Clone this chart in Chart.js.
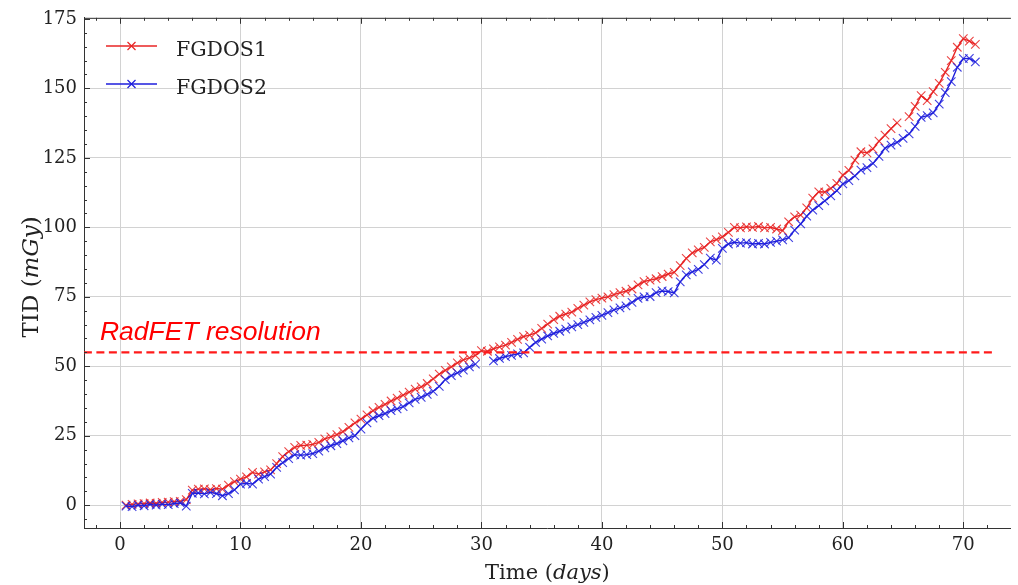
<!DOCTYPE html>
<html>
<head>
<meta charset="utf-8">
<script src="https://cdn.jsdelivr.net/npm/chart.js@4.4.0/dist/chart.umd.min.js"></script>
<style>
  html, body { margin: 0; padding: 0; background: #fff; }
  canvas { display: block; }
</style>
</head>
<body>
<canvas id="tid" width="1018" height="585"></canvas>
<script>
// sample times in days (every 12 h)
const days = [
  0.5, 1, 1.5, 2, 2.5, 3, 3.5, 4, 4.5, 5,
  5.5, 6, 6.5, 7, 7.5, 8, 8.5, 9, 9.5, 10,
  10.5, 11, 11.5, 12, 12.5, 13, 13.5, 14, 14.5, 15,
  15.5, 16, 16.5, 17, 17.5, 18, 18.5, 19, 19.5, 20,
  20.5, 21, 21.5, 22, 22.5, 23, 23.5, 24, 24.5, 25,
  25.5, 26, 26.5, 27, 27.5, 28, 28.5, 29, 29.5, 30,
  30.5, 31, 31.5, 32, 32.5, 33, 33.5, 34, 34.5, 35,
  35.5, 36, 36.5, 37, 37.5, 38, 38.5, 39, 39.5, 40,
  40.5, 41, 41.5, 42, 42.5, 43, 43.5, 44, 44.5, 45,
  45.5, 46, 46.5, 47, 47.5, 48, 48.5, 49, 49.5, 50,
  50.5, 51, 51.5, 52, 52.5, 53, 53.5, 54, 54.5, 55,
  55.5, 56, 56.5, 57, 57.5, 58, 58.5, 59, 59.5, 60,
  60.5, 61, 61.5, 62, 62.5, 63, 63.5, 64, 64.5, 65,
  65.5, 66, 66.5, 67, 67.5, 68, 68.5, 69, 69.5, 70,
  70.5, 71
];

// TID in mGy, null = no reading
const fgdos1 = [
  0, 0.3, 0.5, 0.6, 0.8, 0.7, 1.0, 1.1, 1.3, 1.4,
  2.0, 5.4, 5.8, 5.9, 5.6, 6.0, 5.8, 7.2, 8.5, 9.4,
  10.2, 11.8, 11.2, 12.0, 12.7, 15.0, 17.5, 19.3, 20.8, 21.5,
  21.6, 21.9, 22.6, 23.9, 24.6, 25.4, 26.5, 28.0, 29.6, 31.0,
  32.5, 34.0, 35.2, 36.3, 37.5, 38.5, 39.6, 40.7, 41.8, 42.6,
  43.8, 45.5, 47.2, 48.5, 49.8, 51.2, 52.3, 53.0, 53.9, 55.6,
  55.4, 56.3, 57.0, 57.6, 58.6, 59.7, 60.7, 61.2, 62.0, 63.6,
  65.2, 66.8, 68.0, 68.8, 69.5, 70.8, 72.0, 73.2, 74.0, 74.5,
  75.0, 75.8, 76.5, 77.0, 77.8, 79.3, 80.5, 81.0, 81.5, 82.3,
  83.2, 83.8, 86.2, 88.8, 90.8, 91.9, 92.8, 94.8, 95.6, 96.6,
  98.2, 100.0, 99.8, 100.2, 100.0, 100.3, 99.8, 100.0, 99.4, 98.8,
  102.0, 103.8, 104.4, 107.0, 110.5, 112.8, 112.7, 114.0, 115.8, 118.8,
  120.5, 124.2, 127.2, 126.8, 128.2, 131.0, 133.2, 135.5, 137.6, null,
  139.8, 143.5, 147.4, 145.6, 148.8, 151.8, 155.8, 160.0, 164.8, 167.9,
  167.0, 165.8
];

const fgdos2 = [
  -0.3, -0.5, 0.0, -0.2, 0.3, 0.0, 0.4, 0.2, 0.6, 0.8,
  -0.3, 4.3, 4.4, 4.1, 4.6, 4.2, 3.4, 4.2, 5.5, 7.6,
  7.9, 7.6, 9.4, 10.3, 11.2, 13.6, 15.3, 16.8, 18.2, 18.0,
  18.2, 18.6, 19.5, 20.6, 21.4, 22.2, 23.2, 24.2, 25.0, 27.4,
  29.6, 31.3, 32.2, 33.0, 34.0, 34.7, 35.5, 36.8, 38.1, 38.8,
  39.9, 41.0, 42.8, 45.2, 46.6, 47.6, 48.6, 49.8, 50.8, null,
  null, 51.9, 52.8, 53.5, 53.9, 54.5, 54.8, 56.8, 58.6, 59.8,
  60.9, 61.8, 62.6, 63.4, 64.2, 65.0, 65.8, 66.7, 67.6, 68.3,
  69.3, 70.3, 71.0, 71.7, 73.0, 74.4, 75.0, 75.1, 76.5, 77.1,
  76.9, 76.4, 80.4, 82.9, 84.0, 84.9, 86.6, 88.9, 88.2, 92.4,
  94.0, 94.6, 94.3, 94.5, 94.0, 94.2, 94.0, 94.6, 95.0, 95.5,
  96.3, 99.0, 101.2, 104.0, 106.2, 107.8, 109.5, 111.3, 113.2, 115.6,
  116.8, 118.5, 120.6, 121.5, 123.0, 125.5, 128.5, 129.6, 130.6, 132.0,
  133.6, 136.3, 139.6, 140.2, 141.2, 144.3, 148.5, 152.4, 157.6, 160.7,
  160.8, 159.5
];

// RadFET resolution threshold
const resolutionDose = 55;
const resolutionSpan = [-3, 72.7];

const xTickValues = [0, 10, 20, 30, 40, 50, 60, 70];
const yTickValues = [0, 25, 50, 75, 100, 125, 150, 175];

const RED = "rgb(232, 36, 36)";
const BLUE = "rgb(30, 30, 220)";
const SERIF = "'DejaVu Serif', serif";

function toPoints(ys) {
  return days.map((d, i) => ({ x: d, y: ys[i] }));
}

function drawMixed(ctx, parts, x, y, rotate) {
  ctx.save();
  ctx.translate(x, y);
  if (rotate) ctx.rotate(-Math.PI / 2);
  let total = 0;
  parts.forEach(p => { ctx.font = p.font; total += ctx.measureText(p.text).width; });
  let cx = -total / 2;
  ctx.textBaseline = "alphabetic";
  ctx.textAlign = "left";
  parts.forEach(p => {
    ctx.font = p.font;
    ctx.fillText(p.text, cx, 0);
    cx += ctx.measureText(p.text).width;
  });
  ctx.restore();
}

function drawCross(ctx, x, y, r) {
  ctx.beginPath();
  ctx.moveTo(x - r, y - r); ctx.lineTo(x + r, y + r);
  ctx.moveTo(x - r, y + r); ctx.lineTo(x + r, y - r);
  ctx.stroke();
}

const decorPlugin = {
  id: "decor",
  afterDraw(chart) {
    const ctx = chart.ctx, a = chart.chartArea;
    const xs = chart.scales.x, ys = chart.scales.y;
    ctx.save();

    // top spine + inward ticks
    ctx.strokeStyle = "#333";
    ctx.lineWidth = 1;
    ctx.beginPath();
    ctx.moveTo(a.left, a.top + 0.5);
    ctx.lineTo(a.right, a.top + 0.5);
    for (let v = -2; v <= 74; v += 2) {
      const px = Math.round(xs.getPixelForValue(v)) + 0.5;
      if (px < a.left || px > a.right) continue;
      const len = v % 10 === 0 ? 6 : 3;
      ctx.moveTo(px, a.bottom); ctx.lineTo(px, a.bottom - len);
      ctx.moveTo(px, a.top); ctx.lineTo(px, a.top + len);
    }
    for (let v = -5; v <= 175; v += 5) {
      const py = Math.round(ys.getPixelForValue(v)) + 0.5;
      if (py < a.top || py > a.bottom) continue;
      const len = v % 25 === 0 ? 6 : 3;
      ctx.moveTo(a.left, py); ctx.lineTo(a.left + len, py);
    }
    ctx.stroke();

    // threshold label
    ctx.fillStyle = "#ff0000";
    ctx.font = "italic 26.5px 'Liberation Sans', Arial, sans-serif";
    ctx.textAlign = "left";
    ctx.textBaseline = "alphabetic";
    ctx.fillText("RadFET resolution", xs.getPixelForValue(-1.67), ys.getPixelForValue(59.3));

    // legend
    const entries = chart.data.datasets.filter(d => d.inLegend);
    entries.forEach((ds, i) => {
      const y = 46 + i * 38;
      ctx.strokeStyle = ds.borderColor;
      ctx.lineWidth = 1.4;
      ctx.beginPath();
      ctx.moveTo(106, y); ctx.lineTo(157, y);
      ctx.stroke();
      ctx.lineWidth = 1.2;
      drawCross(ctx, 131.5, y, 4);
      ctx.fillStyle = "#222";
      ctx.font = "20.5px " + SERIF;
      ctx.fillText(ds.label, 176, y + 10);
    });

    // axis titles
    ctx.fillStyle = "#222";
    drawMixed(ctx, [
      { text: "Time (", font: "21px " + SERIF },
      { text: "days", font: "italic 21px " + SERIF },
      { text: ")", font: "21px " + SERIF }
    ], (a.left + a.right) / 2, 579, false);
    drawMixed(ctx, [
      { text: "TID (", font: "23px " + SERIF },
      { text: "mGy", font: "italic 23px " + SERIF },
      { text: ")", font: "23px " + SERIF }
    ], 38, (a.top + a.bottom) / 2 + 4, true);

    ctx.restore();
  }
};

new Chart(document.getElementById("tid").getContext("2d"), {
  type: "line",
  data: {
    datasets: [
      {
        label: "FGDOS1",
        inLegend: true,
        data: toPoints(fgdos1),
        borderColor: RED,
        borderWidth: 1.4,
        pointStyle: "crossRot",
        pointRadius: 6,
        pointBorderWidth: 1.1,
        pointBorderColor: "rgba(232, 36, 36, 0.85)",
        pointHoverRadius: 6,
        spanGaps: false,
        order: 2
      },
      {
        label: "FGDOS2",
        inLegend: true,
        data: toPoints(fgdos2),
        borderColor: BLUE,
        borderWidth: 1.4,
        pointStyle: "crossRot",
        pointRadius: 6,
        pointBorderWidth: 1.1,
        pointBorderColor: "rgba(30, 30, 220, 0.85)",
        pointHoverRadius: 6,
        spanGaps: false,
        order: 1
      },
      {
        label: "RadFET resolution",
        data: resolutionSpan.map(x => ({ x: x, y: resolutionDose })),
        borderColor: "#ff1a1a",
        borderWidth: 2.2,
        borderDash: [8, 4.5],
        pointRadius: 0,
        order: 0
      }
    ]
  },
  options: {
    responsive: false,
    animation: false,
    events: [],
    layout: { padding: { top: 14, right: 0, left: 0, bottom: 0 } },
    plugins: {
      legend: { display: false },
      tooltip: { enabled: false }
    },
    scales: {
      x: {
        type: "linear",
        min: -2.99,
        max: 73.95,
        afterBuildTicks: s => { s.ticks = xTickValues.map(v => ({ value: v })); },
        afterFit: s => { s.height = 57; },
        ticks: {
          padding: 7,
          color: "#222",
          font: { family: SERIF, size: 18 }
        },
        grid: { color: "#d2d2d2", lineWidth: 1, drawTicks: false },
        border: { display: true, color: "#333", width: 1 }
      },
      y: {
        type: "linear",
        min: -8.2,
        max: 175.4,
        afterBuildTicks: s => { s.ticks = yTickValues.map(v => ({ value: v })); },
        afterFit: s => { s.width = 84; },
        ticks: {
          padding: 7,
          color: "#222",
          font: { family: SERIF, size: 18 }
        },
        grid: { color: "#d2d2d2", lineWidth: 1, drawTicks: false },
        border: { display: true, color: "#333", width: 1 }
      }
    }
  },
  plugins: [decorPlugin]
});
</script>
</body>
</html>
